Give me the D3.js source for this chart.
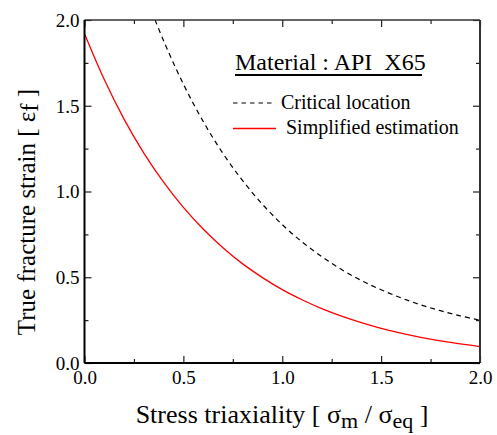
<!DOCTYPE html>
<html><head><meta charset="utf-8">
<script src="https://cdn.jsdelivr.net/npm/d3@7"></script>
<style>
body{margin:0;background:#fff;}
svg text{font-family:"Liberation Serif","Times New Roman",serif !important;fill:#000;}
</style></head>
<body><svg id="c" width="497" height="435"></svg>
<script>
// Data
const criticalX = [0.357,0.4,0.5,0.6,0.7,0.8,0.9,1.0,1.1,1.2,1.3,1.4,1.5,1.6,1.7,1.8,1.9,2.0];
const criticalY = [2.000,1.879,1.626,1.409,1.222,1.063,0.925,0.807,0.706,0.620,0.545,0.481,0.427,0.380,0.339,0.305,0.275,0.249];
const simplifiedX = [0,0.1,0.2,0.3,0.4,0.5,0.6,0.7,0.8,0.9,1.0,1.1,1.2,1.3,1.4,1.5,1.6,1.7,1.8,1.9,2.0];
const simplifiedY = [1.920,1.653,1.422,1.224,1.054,0.907,0.781,0.672,0.578,0.498,0.428,0.369,0.317,0.273,0.235,0.202,0.174,0.150,0.129,0.111,0.096];
const majorTicks = [0,0.5,1.0,1.5,2.0];
const minorTicks = [0.25,0.75,1.25,1.75];
const tickLabels = ["0.0","0.5","1.0","1.5","2.0"];

const FONT = "Liberation Serif, Times New Roman, serif";
const svg = d3.select("#c");
const L=84.5, R=480, T=20, B=363;
const x = d3.scaleLinear().domain([0,2]).range([L,R]);
const y = d3.scaleLinear().domain([0,2]).range([B,T]);

svg.append("clipPath").attr("id","clip").append("rect")
  .attr("x",L).attr("y",T).attr("width",R-L).attr("height",B-T);

const line = d3.line().x(d=>x(d[0])).y(d=>y(d[1])).curve(d3.curveCatmullRom);

svg.append("path").datum(simplifiedX.map((v,i)=>[v,simplifiedY[i]]))
  .attr("d",line).attr("fill","none").attr("stroke","#ff0000").attr("stroke-width",1.3)
  .attr("clip-path","url(#clip)");
svg.append("path").datum(criticalX.map((v,i)=>[v,criticalY[i]]))
  .attr("d",line).attr("fill","none").attr("stroke","#000").attr("stroke-width",1.2)
  .attr("stroke-dasharray","5,4").attr("clip-path","url(#clip)");

// Axes (ticks inward on all four sides)
function ax(gen, tr, vals, size, labels){
  const g = svg.append("g").attr("transform",tr)
    .call(gen.tickValues(vals).tickSize(size).tickFormat((d,i)=>labels?labels[i]:""));
  g.attr("font-family",FONT).attr("font-size",19);
  g.select(".domain").remove();
  g.selectAll(".tick line").attr("stroke","#222").attr("stroke-width",1.2);
  return g;
}
const bx = ax(d3.axisBottom(x), `translate(0,${B})`, majorTicks, -7, tickLabels);
bx.selectAll("text").attr("y",21).attr("dy",0);
ax(d3.axisBottom(x), `translate(0,${B})`, minorTicks, -4);
ax(d3.axisTop(x), `translate(0,${T})`, majorTicks, -7);
ax(d3.axisTop(x), `translate(0,${T})`, minorTicks, -4);
const ly = ax(d3.axisLeft(y), `translate(${L},0)`, majorTicks, -7, tickLabels);
ly.selectAll("text").attr("x",-5).attr("dy","0.34em");
ax(d3.axisLeft(y), `translate(${L},0)`, minorTicks, -4);
ax(d3.axisRight(y), `translate(${R},0)`, majorTicks, -7);
ax(d3.axisRight(y), `translate(${R},0)`, minorTicks, -4);
svg.selectAll(".tick text").attr("fill","#000");

// Frame
svg.append("line").attr("x1",L).attr("x2",R).attr("y1",T).attr("y2",T).attr("stroke","#333").attr("stroke-width",1.5);
svg.append("line").attr("x1",R).attr("x2",R).attr("y1",T).attr("y2",B).attr("stroke","#333").attr("stroke-width",2);
svg.append("line").attr("x1",L).attr("x2",L).attr("y1",T).attr("y2",B).attr("stroke","#000").attr("stroke-width",2);
svg.append("line").attr("x1",L).attr("x2",R).attr("y1",B).attr("y2",B).attr("stroke","#000").attr("stroke-width",2);

// Axis titles
const xt = svg.append("text").attr("x",282).attr("y",423).attr("text-anchor","middle").style("font-size","26px");
xt.append("tspan").text("Stress triaxiality [ σ");
xt.append("tspan").attr("dy",5).style("font-size","22px").text("m");
xt.append("tspan").attr("dy",-5).text(" / σ");
xt.append("tspan").attr("dy",5).style("font-size","22px").text("eq");
xt.append("tspan").attr("dy",-5).text(" ]");

const yt = svg.append("text").attr("transform","translate(35,212) rotate(-90)").attr("text-anchor","middle").style("font-size","25px");
yt.append("tspan").text("True fracture strain [ ε");
yt.append("tspan").attr("dy",3).text("f");
yt.append("tspan").attr("dy",-3).text(" ]");

// Legend
svg.append("text").attr("x",235).attr("y",70).style("font-size","24px").style("white-space","pre").text("Material : API  X65");
svg.append("line").attr("x1",235).attr("x2",422).attr("y1",75).attr("y2",75).attr("stroke","#000").attr("stroke-width",2);
svg.append("line").attr("x1",233).attr("x2",275).attr("y1",103).attr("y2",103).attr("stroke","#000").attr("stroke-width",1.2).attr("stroke-dasharray","4.5,4");
svg.append("text").attr("x",281).attr("y",109).style("font-size","20px").text("Critical location");
svg.append("line").attr("x1",233).attr("x2",276).attr("y1",128.5).attr("y2",128.5).attr("stroke","#ff0000").attr("stroke-width",1.3);
svg.append("text").attr("x",286).attr("y",133.5).style("font-size","20px").text("Simplified estimation");
</script></body></html>
